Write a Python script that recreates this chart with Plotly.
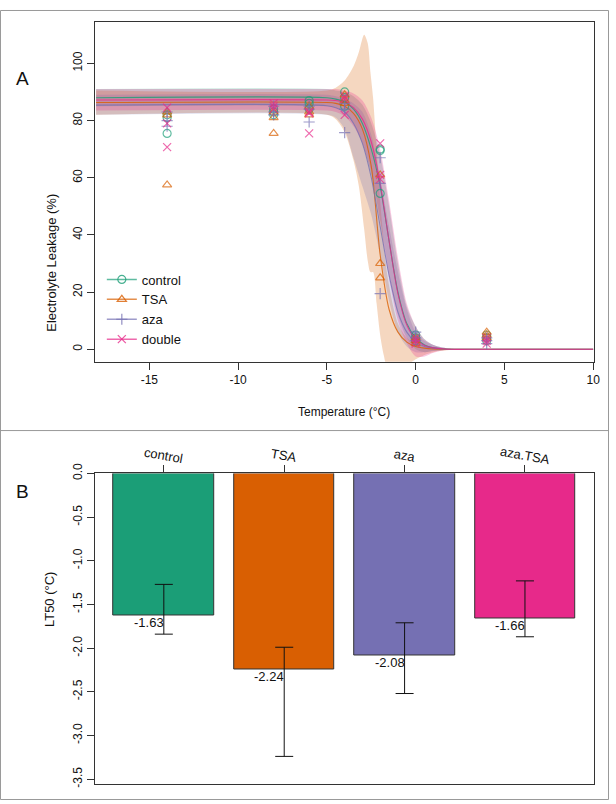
import plotly.graph_objects as go

# ---------------- Panel A data ----------------
series_names = ["control", "TSA", "aza", "double"]
series_colors = ["27,158,119", "217,95,2", "117,112,179", "231,41,138"]
series_symbols = ["circle-open", "triangle-up-open", "cross-thin-open", "x-thin-open"]

temp_x = [-14, -14, -14, -8, -8, -8, -6, -6, -6, -4, -4, -4, -2, -2, -2, 0, 0, 0, 4, 4, 4]
leak_control = [75.5, 81, 82, 83, 84, 82, 87, 86, 84, 90, 88, 85, 69.5, 70, 54.5, 3, 4, 5, 4, 3, 5]
leak_tsa = [57.5, 82, 83, 75.5, 81, 83, 83, 82, 85, 89, 87, 86, 30, 25, 61, 3, 2, 4, 6, 4, 5]
leak_aza = [80, 78, 83, 83, 82, 85, 79.5, 85, 84, 75.8, 84, 86, 19.5, 67, 58, 6, 3, 4, 2, 3, 4]
leak_double = [84.5, 70.7, 79, 86, 85, 84, 75.5, 82.5, 83, 82, 87.5, 88.5, 72, 59.5, 61, 3, 4, 2, 3, 4, 2]

# fitted curves
curve_x = [-18, -5, -4.5, -4, -3.5, -3, -2.5, -2, -1.5, -1, -0.5, 0, 0.5, 1, 1.5, 2, 3, 10]
fit_control = [88, 88, 87.5, 86.5, 84, 79, 70, 57, 38, 20, 9, 4, 1.5, 0.5, 0.2, 0, 0, 0]
fit_tsa = [86.3, 86.3, 86, 85, 82.5, 77, 64, 33, 14, 6, 2.5, 1, 0.4, 0.1, 0, 0, 0, 0]
fit_aza = [85.4, 85.2, 84.5, 83, 79, 72, 60, 43, 26, 13, 6, 2.5, 1, 0.4, 0.1, 0, 0, 0]
fit_double = [87.2, 87.2, 87, 86.3, 84.5, 80.5, 72.5, 58, 38, 19.5, 8.5, 3.5, 1.3, 0.5, 0.2, 0, 0, 0]

# confidence bands
band_control_lo = [85, 85, 84.5, 83, 79, 72, 61, 45, 27, 12, 4, 0, -1, -0.6, -0.3, -0.1, 0, 0]
band_control_hi = [91, 91, 90.5, 90, 88.5, 85.5, 79, 68, 50, 30, 15, 8, 3.5, 1.5, 0.6, 0.2, 0, 0]
band_aza_lo = [82, 82, 81, 77, 67, 57, 47, 33, 17, 6, 1, -1, -1, -0.5, -0.2, 0, 0, 0]
band_aza_hi = [89, 89, 88.5, 87.5, 86, 83, 75, 60, 43, 27, 14, 6, 3, 1.5, 0.6, 0.2, 0, 0]
band_double_lo = [83.5, 83.5, 83, 81.5, 78, 72, 62, 45, 25, 10, 2, -2.5, -2.5, -1.2, -0.5, -0.2, 0, 0]
band_double_hi = [91, 91, 91, 90.5, 89.5, 87, 81, 70, 52, 32, 16, 8, 3.5, 1.5, 0.6, 0.2, 0, 0]
tsa_band_x = [-18, -5, -4.5, -4, -3.5, -3.2, -2.9, -2.7, -2.55, -2.4, -2.2, -2, -1.8, -1.6, -1, -0.5, 0, 0.5, 1, 2, 3, 10]
band_tsa_lo = [82, 82, 80.5, 76, 66, 57, 42, 31, 27, 27, 16, 5, -2, -6, -7, -5.5, -3.5, -2, -1, -0.2, 0, 0]
band_tsa_hi = [90.5, 90.5, 91.5, 94, 99, 104, 110, 107, 97, 88, 70, 52, 38, 26, 9, 4, 2, 1, 0.5, 0.1, 0, 0]

a_xticks = [-15, -10, -5, 0, 5, 10]
a_xticktext = ["-15", "-10", "-5", "0", "5", "10"]
a_yticks = [0, 20, 40, 60, 80, 100]

# ---------------- Panel B data ----------------
groups = ["control", "TSA", "aza", "aza.TSA"]
lt50 = [-1.63, -2.24, -2.08, -1.66]
ci_high = [-1.27, -1.99, -1.71, -1.23]
ci_low = [-1.84, -3.24, -2.52, -1.87]
bar_colors = ["#1B9E77", "#D95F02", "#7570B3", "#E7298A"]
b_yticks = [0, -0.5, -1, -1.5, -2, -2.5, -3, -3.5]
b_yticktext = ["0.0", "-0.5", "-1.0", "-1.5", "-2.0", "-2.5", "-3.0", "-3.5"]

W, H = 616, 804
FONT = "Liberation Sans Narrow, Liberation Sans, Arial, sans-serif"
FONT2 = "Liberation Sans, Arial, sans-serif"

def px_x(p):
    return p / W

def px_y(p):
    return 1 - p / H

fig = go.Figure()

# bands
bands = [
    (curve_x, band_control_lo, band_control_hi, series_colors[0]),
    (tsa_band_x, band_tsa_lo, band_tsa_hi, series_colors[1]),
    (curve_x, band_aza_lo, band_aza_hi, series_colors[2]),
    (curve_x, band_double_lo, band_double_hi, series_colors[3]),
]
for bx, lo, hi, c in bands:
    fig.add_trace(go.Scatter(x=bx, y=lo, mode="lines", line=dict(width=0, shape="spline", smoothing=0.8),
                             showlegend=False, hoverinfo="skip", xaxis="x", yaxis="y"))
    fig.add_trace(go.Scatter(x=bx, y=hi, mode="lines", line=dict(width=0, shape="spline", smoothing=0.8),
                             fill="tonexty", fillcolor=f"rgba({c},0.25)",
                             showlegend=False, hoverinfo="skip", xaxis="x", yaxis="y"))

# curves
fits = [fit_control, fit_tsa, fit_aza, fit_double]
for fy, c in zip(fits, series_colors):
    fig.add_trace(go.Scatter(x=curve_x, y=fy, mode="lines",
                             line=dict(color=f"rgba({c},0.8)", width=1.1, shape="spline", smoothing=0.8),
                             showlegend=False, hoverinfo="skip", xaxis="x", yaxis="y"))

# points
leaks = [leak_control, leak_tsa, leak_aza, leak_double]
for name, ly, c, s in zip(series_names, leaks, series_colors, series_symbols):
    fig.add_trace(go.Scatter(x=temp_x, y=ly, mode="markers",
                             marker=dict(symbol=s, size=8, color=f"rgba({c},0.7)",
                                         line=dict(width=1.2, color=f"rgba({c},0.7)")),
                             showlegend=False, xaxis="x", yaxis="y"))

# legend entries
for name, c, s in zip(series_names, series_colors, series_symbols):
    fig.add_trace(go.Scatter(x=[None], y=[None], mode="lines+markers", name=name,
                             line=dict(color=f"rgba({c},0.7)", width=1.5),
                             marker=dict(symbol=s, size=8, color=f"rgba({c},0.8)",
                                         line=dict(width=1.2, color=f"rgba({c},0.8)")),
                             xaxis="x", yaxis="y"))

# Panel B bars
xpos = [1, 2, 3, 4]
err_up = [h - v for h, v in zip(ci_high, lt50)]
err_dn = [v - l for v, l in zip(lt50, ci_low)]
fig.add_trace(go.Bar(x=xpos, y=lt50, width=0.835, marker=dict(color=bar_colors, line=dict(color="#333", width=1)),
                     error_y=dict(type="data", symmetric=False, array=err_up, arrayminus=err_dn,
                                  color="#111", thickness=1, width=9),
                     showlegend=False, xaxis="x2", yaxis="y2"))

axis_common = dict(showline=True, linecolor="#333", linewidth=1, mirror=True, showgrid=False, zeroline=False,
                   ticks="outside", ticklen=7, tickcolor="#333", tickfont=dict(family=FONT2, size=12, color="#111"))

fig.update_layout(
    width=W, height=H, autosize=False,
    margin=dict(l=0, r=0, t=0, b=0, pad=0),
    paper_bgcolor="white", plot_bgcolor="white",
    xaxis=dict(domain=[px_x(96.3), px_x(600.4)], range=[-18.05, 10.02], tickvals=a_xticks, ticktext=a_xticktext,
               anchor="y", **axis_common),
    yaxis=dict(domain=[px_y(358), px_y(12.7)], range=[-4.36, 114.3], tickvals=a_yticks, tickangle=-90,
               anchor="x", **axis_common),
    xaxis2=dict(domain=[px_x(96.3), px_x(600.4)], range=[0.43, 4.57], tickvals=xpos, ticktext=["", "", "", ""],
                side="top", anchor="y2", **axis_common),
    yaxis2=dict(domain=[px_y(787.7), px_y(471.7)], range=[-3.556, 0], tickvals=b_yticks, ticktext=b_yticktext,
                tickangle=-90, anchor="x2", **axis_common),
    legend=dict(x=px_x(103), y=px_y(259), xanchor="left", yanchor="top", bgcolor="rgba(0,0,0,0)",
                font=dict(family=FONT2, size=13, color="#111"), tracegroupgap=0, itemwidth=30,
                traceorder="normal"),
    bargap=0,
)

ann = []
# panel letters
ann.append(dict(x=px_x(14.5), y=px_y(57), xref="paper", yref="paper", text="A", showarrow=False,
                font=dict(family=FONT2, size=19, color="#111")))
ann.append(dict(x=px_x(14.5), y=px_y(490), xref="paper", yref="paper", text="B", showarrow=False,
                font=dict(family=FONT2, size=19, color="#111")))
# axis titles
ann.append(dict(x=px_x(348.4), y=px_y(409), xref="paper", yref="paper", text="Temperature (°C)", showarrow=False,
                font=dict(family=FONT, size=12, color="#111")))
ann.append(dict(x=px_x(43), y=px_y(185), xref="paper", yref="paper", text="Electrolyte Leakage (%)",
                textangle=-90, showarrow=False, font=dict(family=FONT, size=13, color="#111")))
ann.append(dict(x=px_x(40), y=px_y(630), xref="paper", yref="paper", text="LT50 (°C)",
                textangle=-90, showarrow=False, font=dict(family=FONT, size=13, color="#111")))
# category labels (rotated)
for xp, g in zip(xpos, groups):
    ann.append(dict(x=xp, y=px_y(453), xref="x2", yref="paper", text=g, textangle=10, showarrow=False,
                    font=dict(family=FONT2, size=13, color="#111")))
# value labels
for xp, v in zip(xpos, lt50):
    ann.append(dict(x=xp, y=v, xref="x2", yref="y2", text=f"{v:.2f}", showarrow=False, xshift=-15, yshift=-7,
                    font=dict(family=FONT2, size=13, color="#111")))
fig.update_layout(annotations=ann)

# outer frame and separator
fig.add_shape(type="rect", xref="paper", yref="paper", x0=px_x(0.5), x1=px_x(615.5), y0=px_y(803.5), y1=px_y(0.5),
              line=dict(color="#999", width=1))
fig.add_shape(type="line", xref="paper", yref="paper", x0=0, x1=1, y0=px_y(428), y1=px_y(428),
              line=dict(color="#999", width=1))

fig.write_html("out.html", config={"displayModeBar": False, "responsive": False},
               post_script="document.documentElement.style.overflow='hidden';"
                           "document.body.style.margin='0';document.body.style.overflow='hidden';"
                           "var gd=document.querySelector('.plotly-graph-div');"
                           "gd.style.position='fixed';gd.style.left='0px';gd.style.top='0px';")
